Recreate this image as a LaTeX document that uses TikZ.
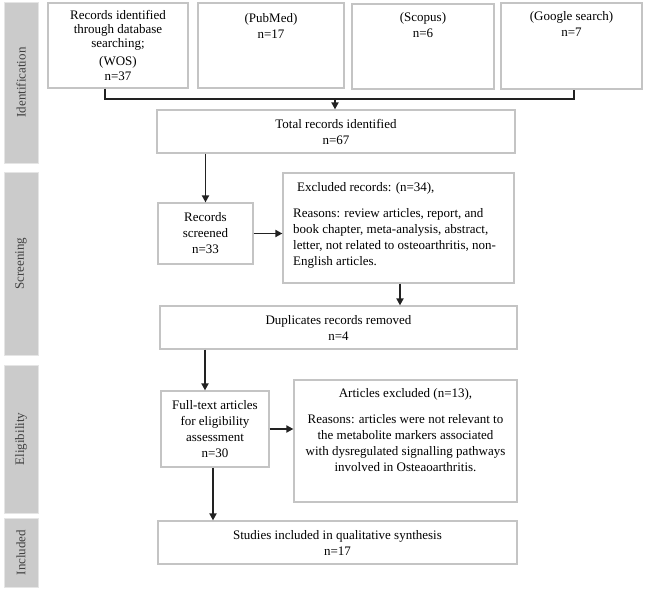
\documentclass[tikz,border=0pt]{standalone}
\usepackage{fontspec}
\setmainfont{Liberation Serif}
\usetikzlibrary{arrows.meta}
\definecolor{boxgray}{HTML}{C4C4C4}
\definecolor{bargray}{HTML}{CBCBCB}
\definecolor{linecol}{HTML}{222222}
\begin{document}
\begin{tikzpicture}[x=1pt,y=-1pt,
  box/.style={draw=boxgray, line width=1.2pt, inner sep=0pt, fill=white},
  txt/.style={font=\fontsize{13}{16}\selectfont, inner sep=0pt, align=center},
  bar/.style={fill=bargray, draw=gray!20, line width=0.8pt},
  barlbl/.style={font=\fontsize{13}{16}\selectfont, rotate=90, inner sep=0pt, text=black!75},
  arr/.style={line width=1.8pt, draw=linecol, -{Triangle[length=7pt,width=7pt]}},
  ln/.style={line width=1.8pt, draw=linecol}]
\useasboundingbox (0,0) rectangle (645,591);

% side bars
\node[bar, minimum width=34pt, minimum height=161pt, inner sep=0pt] (bid) at (21,82.5) {};
\node[bar, minimum width=34pt, minimum height=183pt, inner sep=0pt] (bsc) at (21,263.5) {};
\node[bar, minimum width=34pt, minimum height=148pt, inner sep=0pt] (bel) at (21,439) {};
\node[bar, minimum width=34pt, minimum height=69pt, inner sep=0pt] (bin) at (21,552.5) {};
\node[barlbl] (lid) at (bid.center) {Identification};
\node[barlbl] (lsc) at (bsc.center) {Screening};
\node[barlbl] (lel) at (bel.center) {Eligibility};
\node[barlbl] (lin) at (bin.center) {Included};

% identification boxes
\node[box, minimum width=140pt, minimum height=85pt] (wos) at (118,45.5) {};
\node[txt, anchor=north, font=\fontsize{13}{14.2}\selectfont] (wost) at (118,10) {Records identified\\through database\\searching;\\[4pt](WOS)\\n=37};
\node[box, minimum width=146pt, minimum height=85pt] (pub) at (271,45.5) {};
\node[txt, anchor=north] (pubt) at (271,13) {(PubMed)\\n=17};
\node[box, minimum width=142pt, minimum height=85pt] (sco) at (423,46.5) {};
\node[txt, anchor=north] (scot) at (423,12) {(Scopus)\\n=6};
\node[box, minimum width=141pt, minimum height=86pt] (goo) at (571.5,46) {};
\node[txt, anchor=north] (goot) at (571.5,11) {(Google search)\\n=7};

\node[box, txt, minimum width=358pt, minimum height=43pt] (tot) at (336,131.5) {Total records identified\\n=67};

% screening
\node[box, txt, minimum width=95pt, minimum height=61pt] (scr) at (205.5,233.5) {Records\\screened\\n=33};
\node[box, minimum width=231pt, minimum height=110pt] (exc) at (398.5,228) {};
\node[txt, align=left, anchor=north west] (exct) at (293,182.5) {\hspace*{4pt}Excluded records: (n=34),\\[10pt]Reasons: review articles, report, and\\book chapter, meta-analysis, abstract,\\letter, not related to osteoarthritis, non-\\English articles.};
\node[box, txt, minimum width=357pt, minimum height=43pt] (dup) at (338.5,327.5) {Duplicates records removed\\n=4};

% eligibility
\node[box, txt, minimum width=108pt, minimum height=76pt] (ful) at (215,429) {Full-text articles\\for eligibility\\assessment\\n=30};
\node[box, minimum width=223pt, minimum height=122pt] (aex) at (405.5,441) {};
\node[txt, anchor=north] (aext) at (405.5,388.5) {Articles excluded (n=13),\\[10pt]Reasons: articles were not relevant to\\the metabolite markers associated\\with dysregulated signalling pathways\\involved in Osteaoarthritis.};

% included
\node[box, txt, minimum width=359pt, minimum height=43pt] (stu) at (337.5,542.5) {Studies included in qualitative synthesis\\n=17};

% connectors
\coordinate (j1) at (105,99);
\coordinate (j2) at (574,99);
\coordinate (j3) at (335,99);
\draw[ln] (wos.south -| j1) -- (j1) -- (j2) -- (goo.south -| j2);
\draw[arr] (j3) -- (tot.north -| j3);
\draw[arr] (tot.south -| scr.north) -- (scr.north);
\draw[arr] (scr.east) -- (exc.west |- scr.east);
\draw[arr] (exc.south -| 400,0) -- (dup.north -| 400,0);
\draw[arr] (dup.south -| 205,0) -- (ful.north -| 205,0);
\draw[arr] (ful.east) -- (aex.west |- ful.east);
\draw[arr] (ful.south -| 213,0) -- (stu.north -| 213,0);
\end{tikzpicture}
\end{document}
